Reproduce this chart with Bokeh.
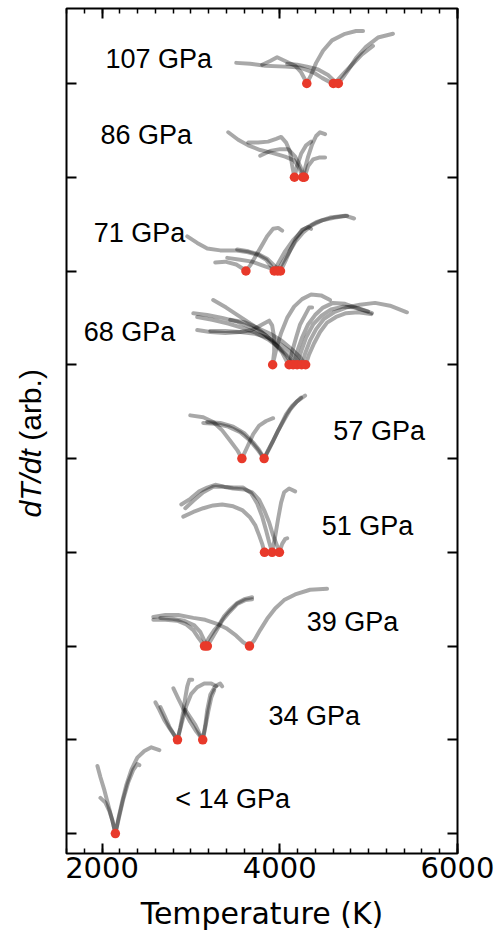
from bokeh.plotting import figure
from bokeh.models import (Range1d, LinearAxis, SingleIntervalTicker, FixedTicker,
                          CustomJSTickFormatter, Label)
from bokeh.core.properties import value
from bokeh.embed import file_html
from bokeh.resources import INLINE
from math import pi

# ---------------- data (Temperature in K, dT/dt offset in arb. units) ----------------
groups = ["< 14 GPa", "34 GPa", "39 GPa", "51 GPa", "57 GPa", "68 GPa", "71 GPa", "86 GPa", "107 GPa"]

T14 = [[1948, 1982, 2027, 2071, 2116, 2150, 2184, 2229, 2274, 2330, 2397, 2476, 2555, 2645],
       [1982, 2038, 2083, 2116, 2150, 2195, 2240, 2296, 2352, 2397, 2420]]
Y14 = [[.72, .60, .46, .30, .14, 0, .16, .35, .52, .68, .81, .88, .92, .89],
       [.38, .33, .24, .14, 0, .19, .37, .55, .68, .74, .73]]
min14 = [2150]

T34 = [[2600, 2645, 2701, 2768, 2849, 2880, 2914, 2937, 2959, 2982, 3015],
       [2802, 2858, 2925, 2993, 3060, 3133, 3161, 3184, 3218, 3274, 3330, 3352],
       [2656, 2701, 2757, 2813, 2849, 2892, 2948, 3004, 3071, 3150, 3229, 3285],
       [2937, 2993, 3049, 3094, 3133, 3161, 3195, 3229, 3263]]
Y34 = [[.40, .32, .21, .11, 0, .13, .30, .45, .57, .64, .64],
       [.55, .44, .31, .19, .09, 0, .15, .32, .48, .57, .60, .57],
       [.35, .26, .14, .05, 0, .16, .36, .49, .56, .60, .60, .57],
       [.32, .24, .16, .07, 0, .13, .30, .45, .53]]
min34 = [2849, 3133]

T39 = [[2577, 2712, 2858, 3027, 3161, 3285, 3397, 3510, 3588, 3659, 3712, 3779, 3858, 3948, 4049, 4173, 4341, 4532],
       [2577, 2712, 2847, 2948, 3027, 3083, 3153, 3206, 3263, 3319, 3375, 3442, 3521, 3600, 3689],
       [2656, 2791, 2925, 3038, 3105, 3150, 3185, 3229, 3285, 3352, 3431, 3521, 3611, 3689]]
Y39 = [[.31, .33, .33, .30, .28, .24, .19, .11, .04, 0, .06, .17, .29, .40, .49, .55, .60, .61],
       [.28, .28, .27, .23, .17, .09, 0, .09, .17, .23, .32, .39, .46, .50, .52],
       [.30, .29, .27, .22, .15, .06, 0, .07, .16, .27, .36, .45, .49, .50]]
min39 = [3153, 3185, 3659]

T51 = [[2914, 3027, 3139, 3251, 3352, 3476, 3577, 3667, 3723, 3768, 3802, 3828],
       [2892, 2993, 3094, 3184, 3274, 3375, 3476, 3588, 3678, 3746, 3802, 3847, 3880, 3914, 3948, 3982, 4015, 4049, 4105, 4173],
       [2937, 3027, 3139, 3251, 3352, 3476, 3600, 3689, 3768, 3824, 3880, 3925, 3970, 3996, 4027, 4060, 4083]]
Y51 = [[.38, .43, .47, .50, .51, .49, .45, .37, .29, .18, .09, 0],
       [.51, .57, .65, .69, .72, .70, .69, .69, .63, .52, .38, .23, .11, 0, .17, .36, .53, .64, .68, .65],
       [.47, .55, .64, .70, .70, .68, .67, .64, .56, .45, .32, .18, .07, 0, .09, .14, .15]]
min51 = [3828, 3914, 3996]

T57 = [[2993, 3139, 3251, 3352, 3442, 3521, 3574, 3633, 3701, 3768, 3847, 3925],
       [3139, 3274, 3420, 3555, 3667, 3746, 3824, 3869, 3925, 3982, 4049, 4116, 4195, 4285],
       [3184, 3330, 3476, 3600, 3701, 3768, 3824, 3880, 3937, 4004, 4071, 4139, 4240]]
Y57 = [[.46, .44, .39, .30, .19, .09, 0, .12, .26, .35, .40, .43],
       [.38, .37, .34, .28, .19, .10, 0, .09, .19, .30, .41, .52, .61, .67],
       [.39, .38, .34, .27, .17, .09, 0, .10, .21, .34, .47, .56, .65]]
min57 = [3574, 3824]

T68 = [[3251, 3397, 3555, 3701, 3836, 3948, 4027, 4071, 4105, 4139, 4184, 4229, 4285, 4330, 4364],
       [3027, 3184, 3352, 3521, 3667, 3802, 3914, 4004, 4071, 4116, 4150, 4195, 4251, 4319, 4397, 4487, 4600, 4734, 4880, 5038],
       [3071, 3240, 3420, 3588, 3734, 3869, 3982, 4071, 4139, 4195, 4240, 4296, 4375, 4465, 4577, 4712, 4858, 4993],
       [3071, 3218, 3386, 3555, 3689, 3802, 3880, 3914, 3937, 3937, 3920, 3959, 4015, 4083, 4161, 4251, 4352, 4465, 4566],
       [3218, 3386, 3555, 3723, 3869, 4004, 4105, 4184, 4246, 4285, 4341, 4409, 4498, 4611, 4746, 4903, 5072, 5240, 5431],
       [3442, 3611, 3757, 3892, 4015, 4128, 4218, 4291, 4330, 4386, 4453, 4532, 4633, 4746, 4880, 5027]]
Y68 = [[.69, .61, .51, .42, .32, .22, .13, .05, 0, .14, .29, .43, .53, .61, .61],
       [.55, .53, .50, .46, .40, .34, .26, .17, .10, .04, 0, .14, .29, .43, .53, .61, .66, .65, .60, .55],
       [.51, .48, .44, .39, .34, .27, .19, .12, .05, 0, .14, .29, .43, .52, .59, .62, .61, .57],
       [.37, .35, .34, .35, .37, .43, .47, .42, .29, .14, 0, .16, .34, .50, .62, .70, .75, .74, .69],
       [.36, .36, .35, .33, .29, .22, .15, .07, 0, .12, .26, .38, .49, .56, .61, .64, .66, .63, .56],
       [.48, .45, .39, .33, .26, .17, .09, 0, .11, .23, .35, .45, .51, .55, .56, .54]]
min68 = [3920, 4105, 4150, 4195, 4246, 4291]

T71 = [[2959, 3071, 3184, 3330, 3498, 3645, 3757, 3847, 3903, 3938, 3993, 4060, 4150, 4263, 4409, 4566, 4734, 4836],
       [3274, 3386, 3510, 3577, 3619, 3667, 3723, 3791, 3858, 3925, 3982, 4027],
       [3409, 3555, 3689, 3802, 3892, 3976, 4038, 4105, 4173, 4263, 4364, 4476, 4622, 4757],
       [3521, 3645, 3757, 3858, 3937, 4008, 4060, 4116, 4184, 4251, 4319, 4352]]
Y71 = [[.37, .30, .24, .22, .22, .20, .17, .12, .05, 0, .10, .21, .33, .44, .52, .57, .59, .56],
       [.09, .10, .07, .03, 0, .06, .15, .26, .37, .45, .46, .43],
       [.14, .12, .10, .06, .03, 0, .10, .20, .31, .41, .49, .54, .57, .59],
       [.23, .21, .18, .13, .06, 0, .10, .22, .35, .44, .47, .45]]
min71 = [3619, 3938, 3976, 4008]

T86 = [[3420, 3532, 3645, 3779, 3914, 4060, 4161, 4218, 4259, 4285, 4319, 4364, 4409, 4453, 4510],
       [3645, 3757, 3869, 3959, 4015, 4071, 4116, 4139, 4165, 4195, 4240, 4296, 4352],
       [3779, 3892, 4004, 4094, 4173, 4229, 4277, 4319, 4375, 4442, 4510]]
Y86 = [[.48, .40, .34, .29, .26, .22, .18, .10, 0, .10, .22, .35, .44, .48, .46],
       [.37, .37, .38, .41, .43, .37, .27, .13, 0, .12, .25, .34, .38],
       [.23, .28, .30, .30, .22, .12, 0, .12, .19, .21, .21]]
min86 = [4165, 4259, 4277]

T107 = [[3510, 3667, 3836, 4060, 4229, 4375, 4476, 4555, 4603, 4645, 4712, 4813, 4925, 5049],
        [3802, 3892, 3970, 4060, 4173, 4240, 4285, 4304, 4352, 4409, 4487, 4588, 4734, 4858, 4937],
        [4083, 4195, 4307, 4431, 4543, 4622, 4659, 4701, 4768, 4858, 4970, 5105, 5274]]
Y107 = [[.22, .21, .19, .18, .17, .12, .06, .02, 0, .03, .10, .20, .31, .40],
        [.20, .24, .28, .24, .19, .12, .04, 0, .09, .22, .35, .46, .53, .56, .56],
        [.21, .20, .18, .15, .09, .02, 0, .05, .14, .27, .39, .49, .53]]
min107 = [4304, 4603, 4659]

all_T = [T14, T34, T39, T51, T57, T68, T71, T86, T107]
all_Y = [Y14, Y34, Y39, Y51, Y57, Y68, Y71, Y86, Y107]
all_min = [min14, min34, min39, min51, min57, min68, min71, min86, min107]

# label anchor positions (data coordinates)
label_T = [2824, 3873, 4304, 4473, 4603, 1794, 1906, 1982, 2038]
label_y = [0.37, 1.25, 2.26, 3.28, 4.29, 5.35, 6.41, 7.45, 8.26]

x_ticks_interval = 2000
y_ticks = list(range(len(groups)))

# ---------------- figure ----------------
p = figure(width=495, height=936, x_range=Range1d(1600, 6000), y_range=Range1d(-0.213, 8.8),
           output_backend="svg", toolbar_location=None,
           min_border_left=66, min_border_right=38, min_border_top=8, min_border_bottom=83)
p.grid.visible = False
p.outline_line_color = "black"
p.outline_line_width = 2
p.background_fill_color = "white"
p.border_fill_color = "white"

xs, ys, dx, dy = [], [], [], []
for i, (Tg, Yg, mg) in enumerate(zip(all_T, all_Y, all_min)):
    for t, y in zip(Tg, Yg):
        xs.append(t)
        ys.append([v + i for v in y])
    for m in mg:
        dx.append(m)
        dy.append(i)

p.multi_line(xs, ys, line_color="black", line_alpha=0.34, line_width=4,
             line_cap="round", line_join="round")
p.scatter(dx, dy, size=9.5, fill_color="#e8392a", line_color=None)

p.text(x=label_T, y=label_y, text=groups, text_font=value("Liberation Sans"),
       text_font_size="27px", text_baseline="alphabetic", text_align="left", text_color="black")

xticker = SingleIntervalTicker(interval=x_ticks_interval, num_minor_ticks=10)
yticker = FixedTicker(ticks=y_ticks, minor_ticks=[])
empty = CustomJSTickFormatter(code="return ''")

top = LinearAxis(ticker=xticker, formatter=empty)
right = LinearAxis(ticker=yticker, formatter=empty)
p.add_layout(top, "above")
p.add_layout(right, "right")
p.xaxis.ticker = xticker
p.yaxis.ticker = yticker
p.yaxis[0].formatter = empty

for ax in p.xaxis + p.yaxis:
    ax.axis_line_color = None
    ax.major_tick_in = 10
    ax.major_tick_out = 0
    ax.minor_tick_in = 5
    ax.minor_tick_out = 0
    ax.major_tick_line_width = 2
    ax.minor_tick_line_width = 1.5
    ax.major_tick_line_color = "black"
    ax.minor_tick_line_color = "black"

top.major_label_standoff = 0
right.major_label_standoff = 0
p.yaxis.minor_tick_line_color = None

bottom = p.below[0]
bottom.major_label_text_font = "DejaVu Sans"
bottom.major_label_text_font_size = "29px"
bottom.major_label_text_color = "black"
bottom.major_label_standoff = 3
bottom.axis_label = "Temperature (K)"
bottom.axis_label_text_font = "DejaVu Sans"
bottom.axis_label_text_font_size = "30px"
bottom.axis_label_text_font_style = "normal"
bottom.axis_label_text_color = "black"
bottom.axis_label_standoff = 15

# y-axis title: italic "dT/dt" followed by upright "(arb.)"
ylab_T = 1190
p.add_layout(Label(x=ylab_T, y=3.371, text="dT/dt",
                   angle=pi / 2, text_font="Liberation Sans", text_font_style="italic",
                   text_font_size="30px", text_baseline="alphabetic", text_align="left",
                   text_color="black"), "left")
p.add_layout(Label(x=ylab_T, y=4.189, text="(arb.)",
                   angle=pi / 2, text_font="Liberation Sans", text_font_style="normal",
                   text_font_size="30px", text_baseline="alphabetic", text_align="left",
                   text_color="black"), "left")

open("out.html", "w").write(file_html(p, INLINE))
